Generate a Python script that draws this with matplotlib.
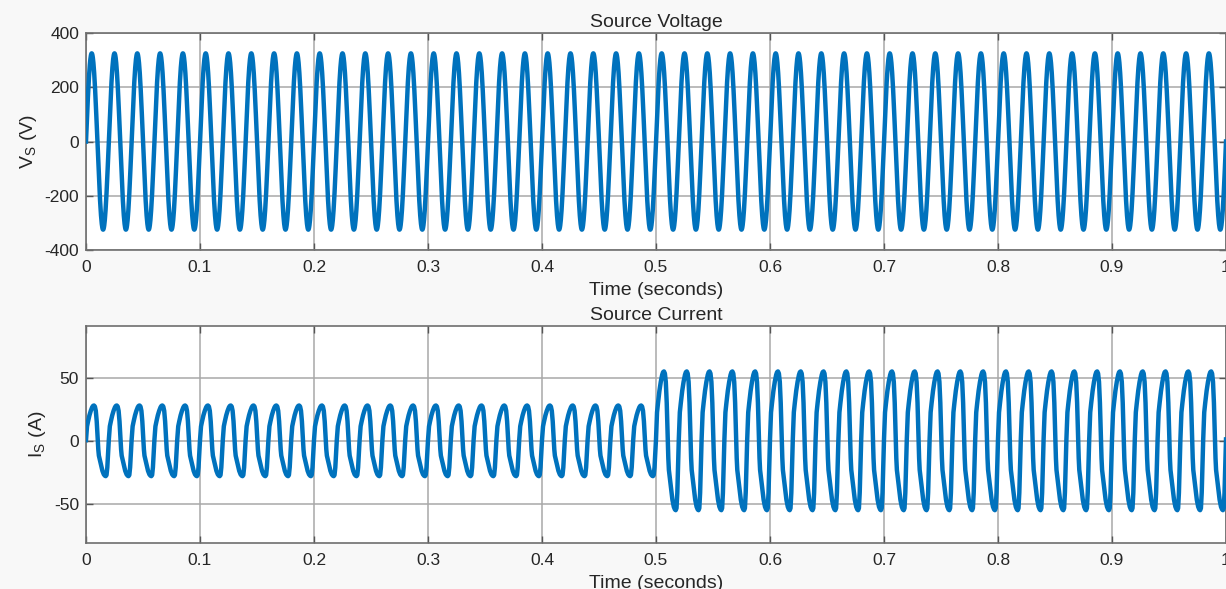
import numpy as np
import matplotlib.pyplot as plt

plt.rcParams['font.family'] = ['Liberation Sans', 'DejaVu Sans']
plt.rcParams['axes.unicode_minus'] = False

# Signal data ----------------------------------------------------------------------------------------------------------
f_grid = 50.0            # Hz
t_end = 1.0              # s
v_peak = 325.0           # V, source voltage amplitude

# one period of the source current, per unit of its peak (phase 0..1 of the 20 ms cycle)
i_phase = [0.00, 0.045, 0.09, 0.15, 0.21, 0.27, 0.31, 0.35, 0.39, 0.43, 0.47, 0.51,
           0.54, 0.565, 0.60, 0.66, 0.72, 0.78, 0.83, 0.865, 0.90, 0.935, 0.97]
i_shape = [0.02, 0.41, 0.55, 0.72, 0.85, 0.95, 0.99, 1.00, 0.97, 0.85, 0.55, 0.10,
           -0.25, -0.42, -0.52, -0.70, -0.85, -0.95, -0.99, -1.00, -0.97, -0.75, -0.35]
i_amp_before = 28.0      # A, before the load step
i_amp_after = 55.0       # A, after the load step
t_step = 0.5             # s

x_ticks = [0, 0.1, 0.2, 0.3, 0.4, 0.5, 0.6, 0.7, 0.8, 0.9, 1]
x_tick_labels = ['0', '0.1', '0.2', '0.3', '0.4', '0.5', '0.6', '0.7', '0.8', '0.9', '1']
v_ticks = [-400, -200, 0, 200, 400]
i_ticks = [-50, 0, 50]

# Build the traces -----------------------------------------------------------------------------------------------------
t_v = np.linspace(0, t_end, 6001)
v_s = v_peak * np.sin(2 * np.pi * f_grid * t_v)

n_cycles = int(round(t_end * f_grid))
t_i, i_s = [], []
for k in range(n_cycles):
    amp = i_amp_before if k / f_grid < t_step else i_amp_after
    t_i.extend((k + np.array(i_phase)) / f_grid)
    i_s.extend(amp * np.array(i_shape))
t_i.append(t_end)
i_s.append(i_amp_after * i_shape[0])

# Plot -----------------------------------------------------------------------------------------------------------------
line_col = '#0072BD'
txt_col = '#262626'

fig = plt.figure(figsize=(12.26, 5.89), dpi=100, facecolor='#f8f8f8')
ax1 = fig.add_axes([86 / 1226, 1 - 250 / 589, 1140 / 1226, 217 / 589])
ax2 = fig.add_axes([86 / 1226, 1 - 543 / 589, 1140 / 1226, 217 / 589])

ax1.plot(t_v, v_s, color=line_col, lw=3.2, zorder=3)
ax2.plot(t_i, i_s, color=line_col, lw=3.2, zorder=3, solid_joinstyle='round')

for ax, ttl, ylab in [(ax1, 'Source Voltage', r'V$_\mathregular{S}$ (V)'),
                      (ax2, 'Source Current', r'I$_\mathregular{S}$ (A)')]:
    ax.set_facecolor('white')
    ax.set_xlim(0, t_end)
    ax.set_xticks(x_ticks)
    ax.set_xticklabels(x_tick_labels)
    ax.grid(True, color='#a8a8a8', lw=1.1)
    ax.set_axisbelow(True)
    ax.tick_params(direction='in', top=True, right=True, length=5, width=1,
                   color='#555555', labelsize=12.5, labelcolor=txt_col)
    ax.tick_params(axis='x', pad=7)
    ax.tick_params(axis='y', pad=5)
    for sp in ax.spines.values():
        sp.set_color('#6e6e6e')
        sp.set_linewidth(1.2)
    ax.set_title(ttl, fontsize=14, color=txt_col, pad=4)
    ax.set_xlabel('Time (seconds)', fontsize=14, color=txt_col, labelpad=5)
    ax.set_ylabel(ylab, fontsize=14, color=txt_col, labelpad=4)

ax1.set_ylim(-400, 400)
ax1.set_yticks(v_ticks)
ax2.set_ylim(-81, 91)
ax2.set_yticks(i_ticks)

fig.savefig('out.png', dpi=100, facecolor=fig.get_facecolor())
